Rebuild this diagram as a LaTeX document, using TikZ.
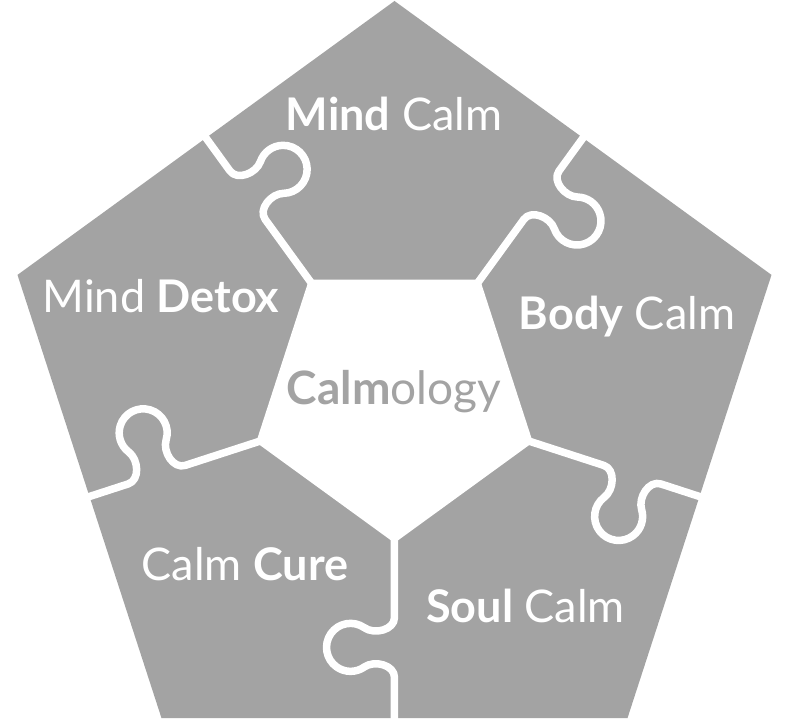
\documentclass[tikz,border=0pt]{standalone}
\usepackage{fontspec}
\setmainfont{Lato}
\definecolor{piece}{HTML}{A3A3A3}
\tikzset{
  divider/.style={draw=white, line width=7.5pt, line join=round, line cap=butt},
  label/.style={anchor=base, inner sep=0pt, text=white, font=\fontsize{45}{48}\selectfont},
  centerlabel/.style={label, text=piece, font=\fontsize{46}{48}\selectfont}
}
\begin{document}
\begin{tikzpicture}[x=1pt,y=1pt]
\useasboundingbox (-394.5,-322.6) rectangle (392.5,397.4);
% outer pentagon
\fill[piece] (90:396.4) -- (162:396.4) -- (234:396.4) -- (306:396.4) -- (18:396.4) -- cycle;
% puzzle dividers
\foreach \a in {54,126,198,270,342} {
  \begin{scope}[rotate=\a, shift={(146,0)}, yscale=-1]
    \draw[divider] (-8,0) -- (74,0) .. controls (86.5,0) and (91.5,20) .. (84.3,30.2)
      arc[start angle=215, end angle=-35, radius=24]
      .. controls (116.5,20) and (121.5,0) .. (134,0) -- (185,0);
  \end{scope}
}
% inner pentagon
\fill[white] (54:145.5) -- (126:145.5) -- (198:145.5) -- (270:145.5) -- (342:145.5) -- cycle;
% labels
\node[label] (mindcalm) at (-0.5,266.4) {\textbf{Mind} Calm};
\node[label] (minddetox) at (-233.5,84.4) {Mind \textbf{Detox}};
\node[label] (bodycalm) at (232.5,67.4) {\textbf{Body} Calm};
\node[centerlabel] (calmology) at (-0.5,-7.6) {\textbf{Calm}ology};
\node[label] (calmcure) at (-149.5,-182.6) {Calm \textbf{Cure}};
\node[label] (soulcalm) at (131,-224.6) {\textbf{Soul} Calm};
\end{tikzpicture}
\end{document}
